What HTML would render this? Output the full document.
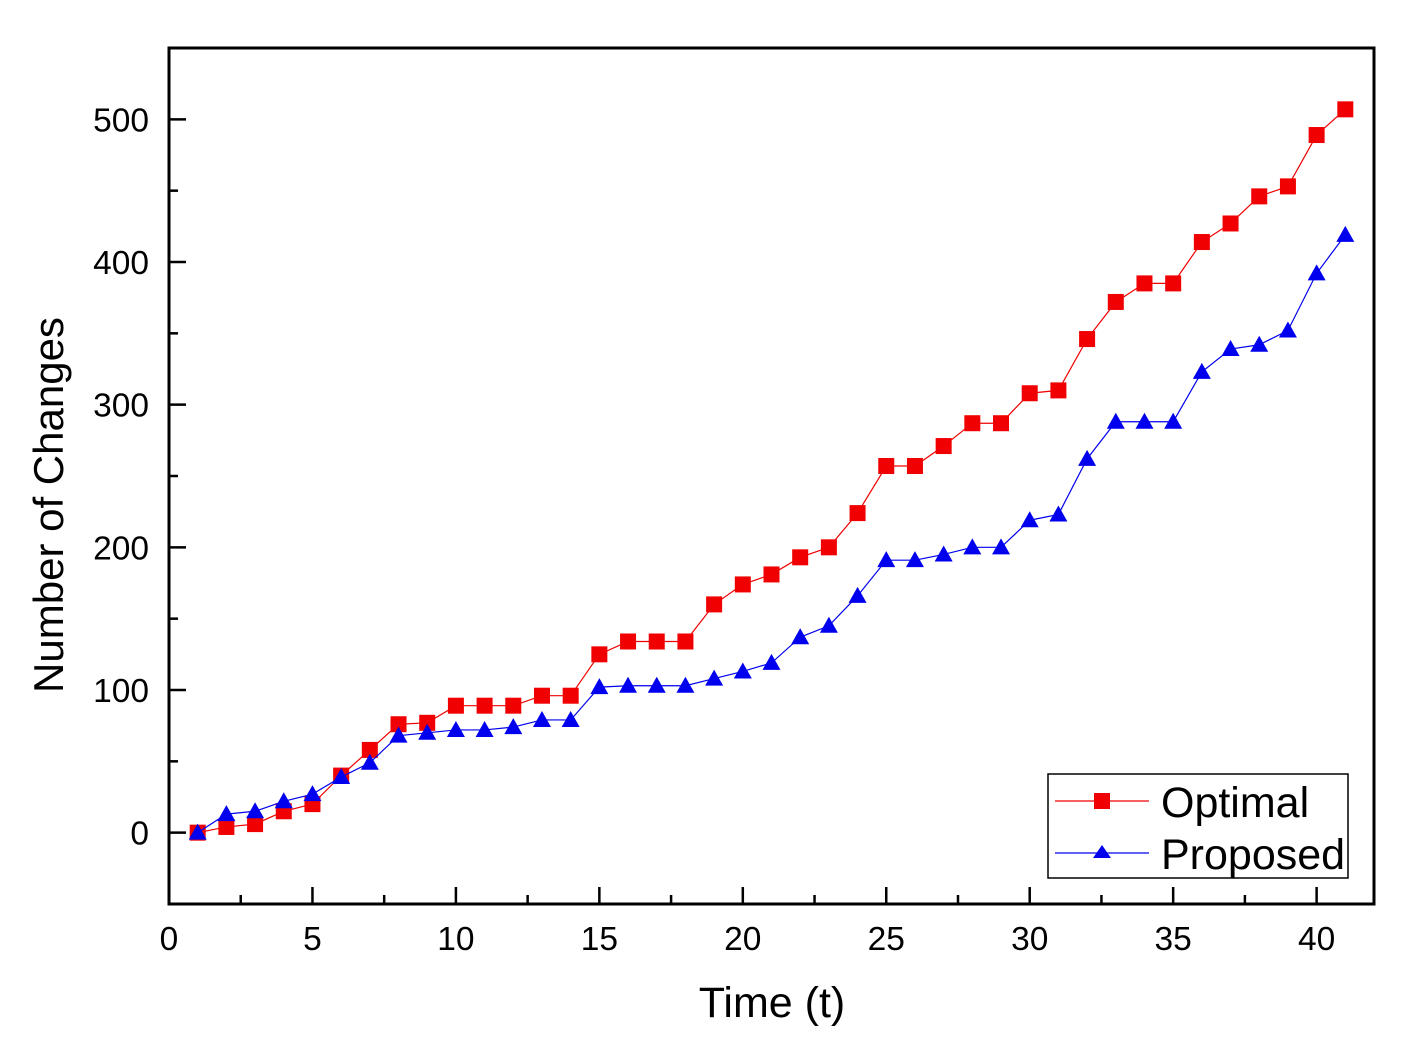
<!DOCTYPE html>
<html><head><meta charset="utf-8"><style>
html,body{margin:0;padding:0;background:#fff;}
svg{display:block;font-family:"Liberation Sans",Arial,sans-serif;}
</style></head><body>
<svg id="chart" width="1401" height="1037" xmlns="http://www.w3.org/2000/svg"></svg>
<script>
const times = [1,2,3,4,5,6,7,8,9,10,11,12,13,14,15,16,17,18,19,20,21,22,23,24,25,26,27,28,29,30,31,32,33,34,35,36,37,38,39,40,41];
const optimal = [0,4,6,15,20,40,58,76,77,89,89,89,96,96,125,134,134,134,160,174,181,193,200,224,257,257,271,287,287,308,310,346,372,385,385,414,427,446,453,489,507];
const proposed = [0,13,15,22,27,39,49,68,70,72,72,74,79,79,102,103,103,103,108,113,119,137,145,166,191,191,195,200,200,219,223,262,288,288,288,323,339,342,352,392,419];
const xTicks = [0,5,10,15,20,25,30,35,40];
const yTicks = [0,100,200,300,400,500];

const svg = document.getElementById('chart');
const NS = 'http://www.w3.org/2000/svg';
const L=169,R=1374,T=48,B=904, X0=0,X1=42,Y0=-50,Y1=550;
const xs = v => L + (v-X0)/(X1-X0)*(R-L);
const ys = v => B - (v-Y0)/(Y1-Y0)*(B-T);
function mk(tag, attrs, parent){const e=document.createElementNS(NS,tag);for(const k in attrs)e.setAttribute(k,attrs[k]);(parent||svg).appendChild(e);return e;}

for(let v=0; v<=X1; v+=2.5){
  const major = xTicks.includes(v);
  const t = mk('line',{x1:xs(v),x2:xs(v),y1:B,y2:B-(major?17:9),stroke:'#000','stroke-width':2.5});
  
  
}
for(let v=-50; v<=550; v+=50){
  const major = yTicks.includes(v);
  const t = mk('line',{x1:L,x2:L+(major?17:9),y1:ys(v),y2:ys(v),stroke:'#000','stroke-width':2.5});
  
  
}
xTicks.forEach(v=>{
  const t=mk('text',{x:xs(v),y:950,'text-anchor':'middle','font-size':33.5});
  t.textContent=v;
  
  
});
yTicks.forEach(v=>{
  const t=mk('text',{x:149,y:ys(v)+12,'text-anchor':'end','font-size':33.5});
  t.textContent=v;
  
  
});
const fr=mk('rect',{x:L,y:T,width:R-L,height:B-T,fill:'none',stroke:'#000','stroke-width':3});



function series(vals,color,marker,name){
  const g=mk('g',{});
  
  
  const pts=times.map((t,i)=>xs(t)+','+ys(vals[i])).join(' ');
  mk('polyline',{points:pts,fill:'none',stroke:color,'stroke-width':1.2},g);
  times.forEach((t,i)=>{
    const x=xs(t),y=ys(vals[i]);
    let m;
    if(marker==='square') m=mk('rect',{x:x-8,y:y-8,width:16,height:16,fill:color},g);
    else m=mk('polygon',{points:`${x},${y-9} ${x-9},${y+7} ${x+9},${y+7}`,fill:color},g);
    
    
  });
}
series(optimal,'#f00000','square','optimal-series');
series(proposed,'#0000ee','triangle','proposed-series');

const xt=mk('text',{x:772,y:1017,'text-anchor':'middle','font-size':43});
xt.textContent='Time (t)';


const yt=mk('text',{x:0,y:0,'text-anchor':'middle','font-size':42,transform:'translate(63,505) rotate(-90)'});
yt.textContent='Number of Changes';



const lg=mk('g',{});


mk('rect',{x:1048,y:774,width:300,height:104,fill:'#fff',stroke:'#000','stroke-width':1.5},lg);
mk('line',{x1:1055,x2:1149,y1:801,y2:801,stroke:'#f00000','stroke-width':1.2},lg);
mk('rect',{x:1094,y:793,width:16,height:16,fill:'#f00000'},lg);
const t1=mk('text',{x:1161,y:817,'font-size':43},lg);t1.textContent='Optimal';


mk('line',{x1:1055,x2:1149,y1:853,y2:853,stroke:'#0000ee','stroke-width':1.2},lg);
mk('polygon',{points:'1102,845 1093,858 1111,858',fill:'#0000ee'},lg);
const t2=mk('text',{x:1161,y:869,'font-size':43},lg);t2.textContent='Proposed';


</script>
</body></html>
